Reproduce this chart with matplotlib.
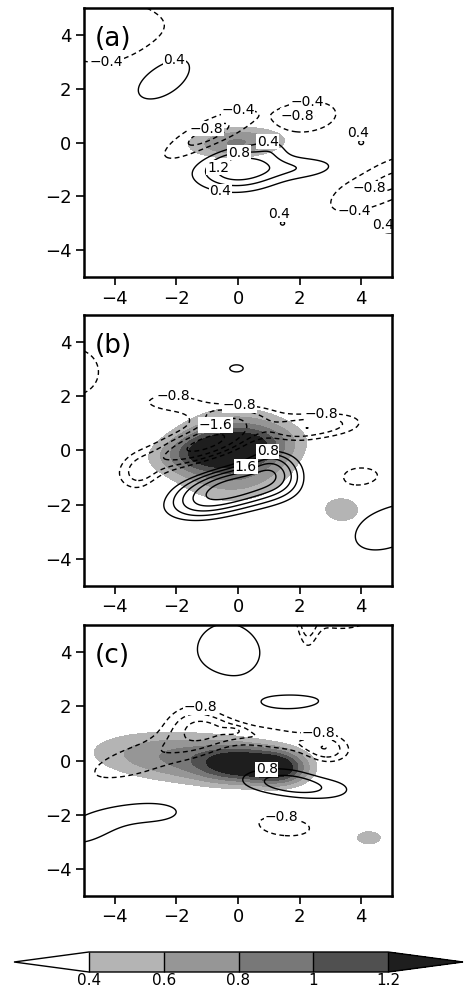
import numpy as np
import matplotlib
matplotlib.use('Agg')
import matplotlib.pyplot as plt
from matplotlib.colors import ListedColormap, BoundaryNorm
from matplotlib.cm import ScalarMappable

# shading levels / grays
shade_levels = [0.4, 0.6, 0.8, 1.0, 1.2]
shade_colors = ['#b4b4b4', '#969696', '#787878', '#505050']
shade_over = '#1e1e1e'
cbar_ticks = [0.4, 0.6, 0.8, 1.0, 1.2]
cbar_ticklabels = ['0.4', '0.6', '0.8', '1', '1.2']

line_levels_a = [-1.2, -0.8, -0.4, 0.4, 0.8, 1.2]
line_levels_bc = [-2.8, -2.4, -2.0, -1.6, -1.2, -0.8, 0.8, 1.2, 1.6, 2.0, 2.4, 2.8]

panel_names = ['(a)', '(b)', '(c)']

# features of each field: (x0, y0, amplitude, sigma_x, sigma_y, angle)
shade_a = [(-0.05, 0.0, 0.82, 1.3, 0.47, 3)]
lines_a = [(-4.8, 4.3, -0.8, 2.5, 1.1, -12),
           (-2.3, 2.6, 0.85, 1.15, 0.65, 40),
           (-1.0, 0.25, -1.0, 1.2, 0.38, 30),
           (0.05, -0.98, 1.6, 0.95, 0.52, 5),
           (2.2, -0.95, 0.6, 0.9, 0.3, 3),
           (1.1, -0.15, 0.35, 0.35, 0.3, 0),
           (2.2, 0.95, -0.85, 0.8, 0.45, 10),
           (4.0, 0.0, 0.48, 0.15, 0.15, 0),
           (1.45, -3.0, 0.52, 0.15, 0.15, 0),
           (5.0, -1.45, -0.9, 1.7, 0.6, 25),
           (5.4, -2.8, 0.6, 1.05, 0.45, 30)]

shade_b = [(-0.15, -0.15, 1.0, 1.5, 1.25, 5),
           (-0.55, 0.05, 0.75, 1.5, 0.5, 8),
           (3.4, -2.2, 0.5, 0.7, 0.55, 0)]
lines_b = [(-5.4, 2.9, -1.0, 1.3, 1.3, 0),
           (-0.05, 3.03, 0.9, 0.45, 0.27, 0),
           (-1.1, 0.2, -2.2, 1.7, 0.55, 22),
           (-2.2, 1.8, -0.95, 0.8, 0.3, 0),
           (-0.6, 1.4, -0.8, 1.0, 0.35, 0),
           (3.0, 0.95, -1.2, 1.0, 0.38, 5),
           (1.7, 0.6, -0.8, 0.8, 0.35, 10),
           (-3.2, -1.0, -0.8, 0.5, 0.6, 0),
           (0.0, -1.3, 2.6, 1.5, 0.62, 8),
           (1.1, -0.4, 1.0, 0.55, 0.7, 30),
           (-1.3, -2.1, 0.8, 0.9, 0.45, 10),
           (3.9, -1.0, -1.1, 1.1, 0.55, 0),
           (5.0, -2.75, 1.2, 1.45, 0.83, 30)]

shade_c = [(-1.6, 0.1, 0.85, 2.5, 0.75, -4),
           (0.1, -0.15, 0.85, 0.9, 0.45, 0),
           (1.4, -0.3, 0.85, 0.65, 0.45, 0),
           (4.25, -2.85, 0.5, 0.55, 0.33, 0)]
lines_c = [(-0.3, 4.05, 1.2, 1.15, 1.15, 0),
           (2.25, 4.9, -1.0, 0.25, 0.8, 0),
           (3.3, 5.5, -1.2, 1.3, 0.7, 0),
           (1.8, 2.15, 1.0, 1.2, 0.33, 3),
           (-3.3, 0.0, -1.1, 1.8, 0.6, 20),
           (-1.3, 1.35, -1.15, 0.85, 0.9, 0),
           (1.2, 0.8, -1.15, 1.6, 0.4, -10),
           (2.9, 0.35, -1.0, 0.55, 0.55, 0),
           (-0.13, 1.1, -0.4, 0.25, 0.12, 0),
           (1.4, -2.2, -1.0, 1.7, 0.85, -10),
           (1.75, -0.95, 1.75, 1.6, 0.55, -6),
           (-2.6, -1.9, 1.0, 1.4, 0.5, 0),
           (-5.0, -2.6, 1.0, 1.0, 0.55, 20)]

# contour labels: (level, x, y)
labels_a = [(-0.4, -4.25, 2.95), (0.4, -2.1, 3.25), (-0.4, 0.0, 1.2),
            (-0.8, -1.0, 0.45), (-0.4, 2.25, 1.45), (-0.8, 1.9, 1.0),
            (0.4, 0.95, 0.1), (0.8, 0.05, -0.45), (1.2, -0.5, -1.0),
            (0.4, -0.55, -1.8), (0.4, 3.95, 0.2), (-0.8, 4.2, -1.7),
            (-0.4, 3.75, -2.45), (0.4, 1.3, -2.9), (0.4, 4.75, -3.1)]
labels_b = [(-0.8, -2.1, 2.1), (-0.8, 0.0, 1.45), (-0.8, 2.7, 1.1),
            (-1.6, -0.55, 0.65), (0.8, 0.95, 0.15), (1.6, 0.4, -0.95)]
labels_c = [(-0.8, -1.2, 2.25), (-0.8, 2.6, 1.06), (0.8, 0.95, -0.35),
            (-0.8, 1.4, -1.95)]


def field(X, Y, feats):
    Z = np.zeros_like(X)
    for x0, y0, amp, sx, sy, ang in feats:
        t = np.deg2rad(ang)
        u = (X - x0) * np.cos(t) + (Y - y0) * np.sin(t)
        v = -(X - x0) * np.sin(t) + (Y - y0) * np.cos(t)
        Z += amp * np.exp(-0.5 * ((u / sx) ** 2 + (v / sy) ** 2))
    return Z


def fmt(v):
    return ('%g' % v).replace('-', '\u2212')


def label_near(ax, cs, levels, val, lx, ly):
    # label goes on the closest vertex of that level's contour;
    # tiny closed contours get the label just above them
    polys = cs.get_paths()[levels.index(val)].to_polygons(closed_only=False)
    best = None
    for p in polys:
        d = (p[:, 0] - lx) ** 2 + (p[:, 1] - ly) ** 2
        i = np.argmin(d)
        if best is None or d[i] < best[0]:
            best = (d[i], p, i)
    if best is None:
        return
    _, p, i = best
    px, py = p[i]
    va = 'center'
    if np.ptp(p[:, 0]) < 0.4 and np.ptp(p[:, 1]) < 0.4:
        px, py, va = p[:, 0].mean() - 0.1, p[:, 1].max() + 0.02, 'bottom'
    ax.text(px, py, fmt(val), fontsize=10, ha='center', va=va,
            zorder=4, clip_on=True,
            bbox=dict(boxstyle='square,pad=0.05', fc='white', ec='none'))


x = np.linspace(-5, 5, 301)
y = np.linspace(-5, 5, 301)
X, Y = np.meshgrid(x, y)

fig = plt.figure(figsize=(4.67, 9.94), dpi=100)
rects = [[0.1799, 0.7213, 0.6595, 0.2706],
         [0.1799, 0.4105, 0.6595, 0.2726],
         [0.1799, 0.0986, 0.6595, 0.2726]]
panels = [(shade_a, lines_a, line_levels_a, labels_a),
          (shade_b, lines_b, line_levels_bc, labels_b),
          (shade_c, lines_c, line_levels_bc, labels_c)]

for rect, name, (sh, ln, lev, lab) in zip(rects, panel_names, panels):
    ax = fig.add_axes(rect)
    S = field(X, Y, sh)
    C = field(X, Y, ln)
    ax.contourf(X, Y, S, levels=shade_levels, extend='both',
                colors=['none'] + shade_colors + [shade_over])
    styles = [(0, (3.5, 2.5)) if l < 0 else 'solid' for l in lev]
    cs = ax.contour(X, Y, C, levels=lev, colors='k', linewidths=1.0,
                    linestyles=styles)
    for val, lx, ly in lab:
        label_near(ax, cs, lev, val, lx, ly)
    ax.text(0.035, 0.885, name, transform=ax.transAxes, fontsize=19,
            va='center', ha='left')
    ax.set_xlim(-5, 5)
    ax.set_ylim(-5, 5)
    ax.set_xticks([-4, -2, 0, 2, 4])
    ax.set_yticks([-4, -2, 0, 2, 4])
    ax.tick_params(direction='out', length=6, width=1.2, labelsize=13, pad=3)
    for sp in ax.spines.values():
        sp.set_linewidth(1.8)
        sp.set_zorder(5)

# colour bar with both ends extended
cmap = ListedColormap(shade_colors)
cmap.set_under('white')
cmap.set_over(shade_over)
norm = BoundaryNorm(shade_levels, cmap.N)
cax = fig.add_axes([14 / 467, 1 - 972 / 994, 449 / 467, 20 / 994])
cb = fig.colorbar(ScalarMappable(norm=norm, cmap=cmap), cax=cax,
                  orientation='horizontal', extend='both', extendfrac=0.25,
                  drawedges=True)
cb.set_ticks(cbar_ticks)
cb.set_ticklabels(cbar_ticklabels)
cb.ax.tick_params(length=0, labelsize=11, pad=1)
cb.outline.set_linewidth(1.0)
cb.dividers.set_linewidth(1.0)

fig.savefig('out.png', dpi=100)
